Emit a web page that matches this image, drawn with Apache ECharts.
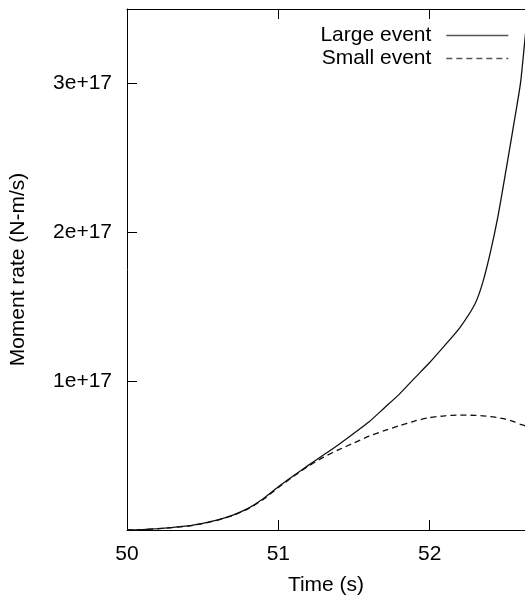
<!DOCTYPE html>
<html>
<head>
<meta charset="utf-8">
<script src="https://cdn.jsdelivr.net/npm/echarts@6/dist/echarts.min.js"></script>
<style>
html,body{margin:0;padding:0;background:#fff;}
#chart{width:525px;height:601px;}
</style>
</head>
<body>
<div id="chart"></div>
<script>
// Time (s)
const time = [50.0, 50.1, 50.2, 50.3, 50.4, 50.5, 50.6, 50.7, 50.8, 50.9,
  51.0, 51.1, 51.2, 51.3, 51.4, 51.5, 51.6, 51.7, 51.8, 51.9,
  52.0, 52.1, 52.2, 52.3, 52.35, 52.4, 52.45, 52.5, 52.55, 52.6, 52.63, 52.65];
// Moment rate (N-m/s)
const largeEvent = [0, 0.003e17, 0.009e17, 0.017e17, 0.027e17, 0.045e17, 0.068e17, 0.100e17, 0.145e17, 0.210e17,
  0.290e17, 0.364e17, 0.436e17, 0.505e17, 0.575e17, 0.650e17, 0.727e17, 0.820e17, 0.913e17, 1.020e17,
  1.125e17, 1.240e17, 1.360e17, 1.520e17, 1.660e17, 1.860e17, 2.100e17, 2.390e17, 2.690e17, 3.000e17, 3.300e17, 3.500e17];
const smallEvent = [0, 0.003e17, 0.008e17, 0.016e17, 0.026e17, 0.043e17, 0.066e17, 0.098e17, 0.142e17, 0.205e17,
  0.285e17, 0.360e17, 0.430e17, 0.490e17, 0.540e17, 0.585e17, 0.630e17, 0.668e17, 0.700e17, 0.732e17,
  0.755e17, 0.767e17, 0.772e17, 0.770e17, 0.767e17, 0.762e17, 0.755e17, 0.745e17, 0.730e17, 0.710e17, 0.700e17, 0.690e17];
const xTicks = [50, 51, 52];
const yTicks = [1e17, 2e17, 3e17];
const seriesNames = ['Large event', 'Small event'];

const FONT = 'Liberation Sans, Arial, Helvetica, sans-serif';
const chart = echarts.init(document.getElementById('chart'), null, {renderer: 'canvas'});
const pair = (xs, ys) => xs.map((x, i) => [x, ys[i]]);

const axisCommon = () => ({
  axisLine: {show: true, onZero: false, lineStyle: {color: '#000', width: 1}},
  axisTick: {show: true, inside: true, length: 10, lineStyle: {color: '#000', width: 1}},
  splitLine: {show: false}
});

chart.setOption({
  animation: false,
  textStyle: {fontFamily: FONT},
  grid: {left: 127, top: 9, right: 0, bottom: 70, containLabel: false, show: false},
  legend: {
    orient: 'vertical',
    right: 11,
    top: 19,
    align: 'right',
    itemWidth: 62,
    itemHeight: 12,
    itemGap: 0,
    itemStyle: {opacity: 0},
    lineStyle: {color: '#555', width: 1.3},
    textStyle: {fontFamily: FONT, fontSize: 21, color: '#000', lineHeight: 23, padding: [0, 10, 0, 0]},
    data: seriesNames
  },
  xAxis: [
    Object.assign({
      type: 'value', min: 50, max: 52.63, interval: 1, position: 'bottom',
      name: 'Time (s)', nameLocation: 'middle', nameGap: 45,
      nameTextStyle: {fontFamily: FONT, fontSize: 21, color: '#000'},
      axisLabel: {
        fontFamily: FONT, fontSize: 21, color: '#000', margin: 14,
        showMaxLabel: false,
        formatter: v => xTicks.includes(Math.round(v * 1000) / 1000) ? String(Math.round(v)) : ''
      }
    }, axisCommon()),
    Object.assign({
      type: 'value', min: 50, max: 52.63, interval: 1, position: 'top', show: true,
      axisLabel: {show: false}
    }, axisCommon())
  ],
  yAxis: [
    Object.assign({
      type: 'value', min: 0, max: 3.5e17, interval: 1e17, position: 'left',
      name: 'Moment rate (N-m/s)', nameLocation: 'middle', nameGap: 98,
      nameTextStyle: {fontFamily: FONT, fontSize: 21, color: '#000'},
      axisLabel: {
        fontFamily: FONT, fontSize: 21, color: '#000', margin: 15,
        showMaxLabel: false,
        formatter: v => yTicks.some(t => Math.abs(t - v) < 1e13) ? (Math.round(v / 1e17)) + 'e+17' : ''
      }
    }, axisCommon())
  ],
  series: [
    {
      name: seriesNames[0], type: 'line', xAxisIndex: 0, yAxisIndex: 0,
      data: pair(time, largeEvent), showSymbol: false, symbol: 'none', smooth: 0.2, clip: true,
      lineStyle: {color: '#111', width: 1.3, type: 'solid'},
      itemStyle: {color: '#111'}
    },
    {
      name: seriesNames[1], type: 'line', xAxisIndex: 0, yAxisIndex: 0,
      data: pair(time, smallEvent), showSymbol: false, symbol: 'none', smooth: 0.2, clip: true,
      lineStyle: {color: '#111', width: 1.3, type: [6, 4]},
      itemStyle: {color: '#111'}
    },
    {
      name: 'top-axis-anchor', type: 'line', xAxisIndex: 1, yAxisIndex: 0,
      data: [], silent: true, showSymbol: false
    }
  ]
});
</script>
</body>
</html>
